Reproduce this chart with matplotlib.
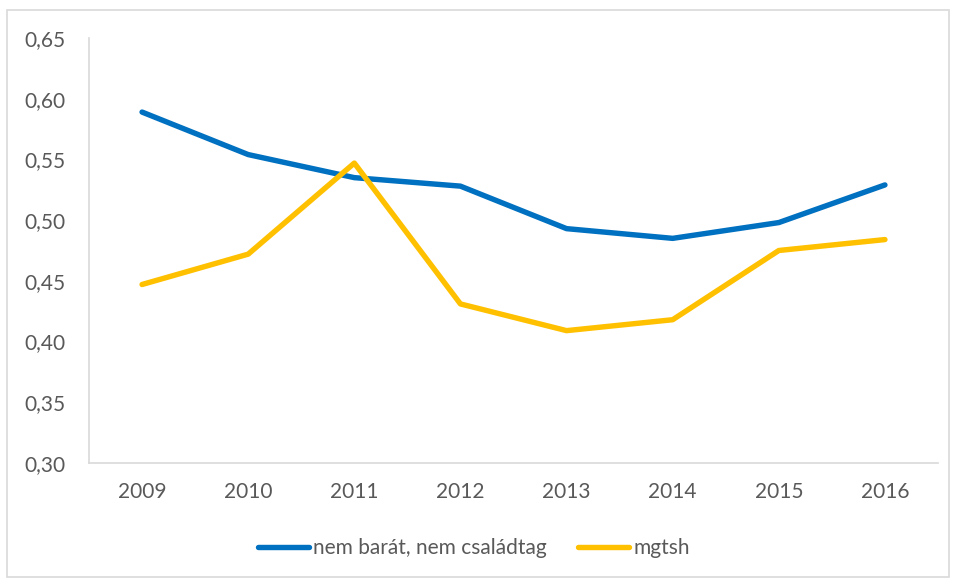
import matplotlib
matplotlib.use("Agg")
import matplotlib.pyplot as plt
from matplotlib.patches import Rectangle
from matplotlib.ticker import FuncFormatter

years = ["2009", "2010", "2011", "2012", "2013", "2014", "2015", "2016"]
nem_barat = [0.589, 0.554, 0.535, 0.528, 0.493, 0.485, 0.498, 0.529]
mgtsh = [0.447, 0.472, 0.547, 0.431, 0.409, 0.418, 0.475, 0.484]
yticks = [0.30, 0.35, 0.40, 0.45, 0.50, 0.55, 0.60, 0.65]

plt.rcParams['font.family'] = ['Lato', 'DejaVu Sans']
txt = '#595959'

fig = plt.figure(figsize=(9.56, 5.81), dpi=100)
fig.patches.append(Rectangle((7/956, 1 - 577/581), 942/956, 567/581, transform=fig.transFigure,
                             fill=False, edgecolor='#D9D9D9', linewidth=1.2))
ax = fig.add_axes([89/956, 1 - 463/581, 849/956, 425/581])
x = list(range(len(years)))
ax.plot(x, nem_barat, color='#0070C0', linewidth=3.9, solid_capstyle='round', label='nem barát, nem családtag')
ax.plot(x, mgtsh, color='#FFC000', linewidth=3.9, solid_capstyle='round', label='mgtsh')
ax.set_xlim(-0.5, len(years) - 0.5)
ax.set_ylim(0.30, 0.65)
ax.set_yticks(yticks)
ax.yaxis.set_major_formatter(FuncFormatter(lambda v, p: f"{v:.2f}".replace('.', ',')))
ax.set_xticks(x)
ax.set_xticklabels(years)
for s in ['top', 'right']:
    ax.spines[s].set_visible(False)
for s in ['left', 'bottom']:
    ax.spines[s].set_color('#D9D9D9')
    ax.spines[s].set_linewidth(1.2)
ax.tick_params(axis='both', length=0, labelsize=15, colors=txt)
ax.tick_params(axis='y', pad=17)
ax.tick_params(axis='x', pad=14)
leg = ax.legend(loc='center', bbox_to_anchor=((474 - 89) / 849, (1 - 548/581 - (1 - 463/581)) / (425/581)),
                ncol=2, frameon=False, fontsize=15, handlelength=2.45, handletextpad=0.2,
                columnspacing=1.5, labelcolor=txt)
fig.savefig('out.png', dpi=100)
